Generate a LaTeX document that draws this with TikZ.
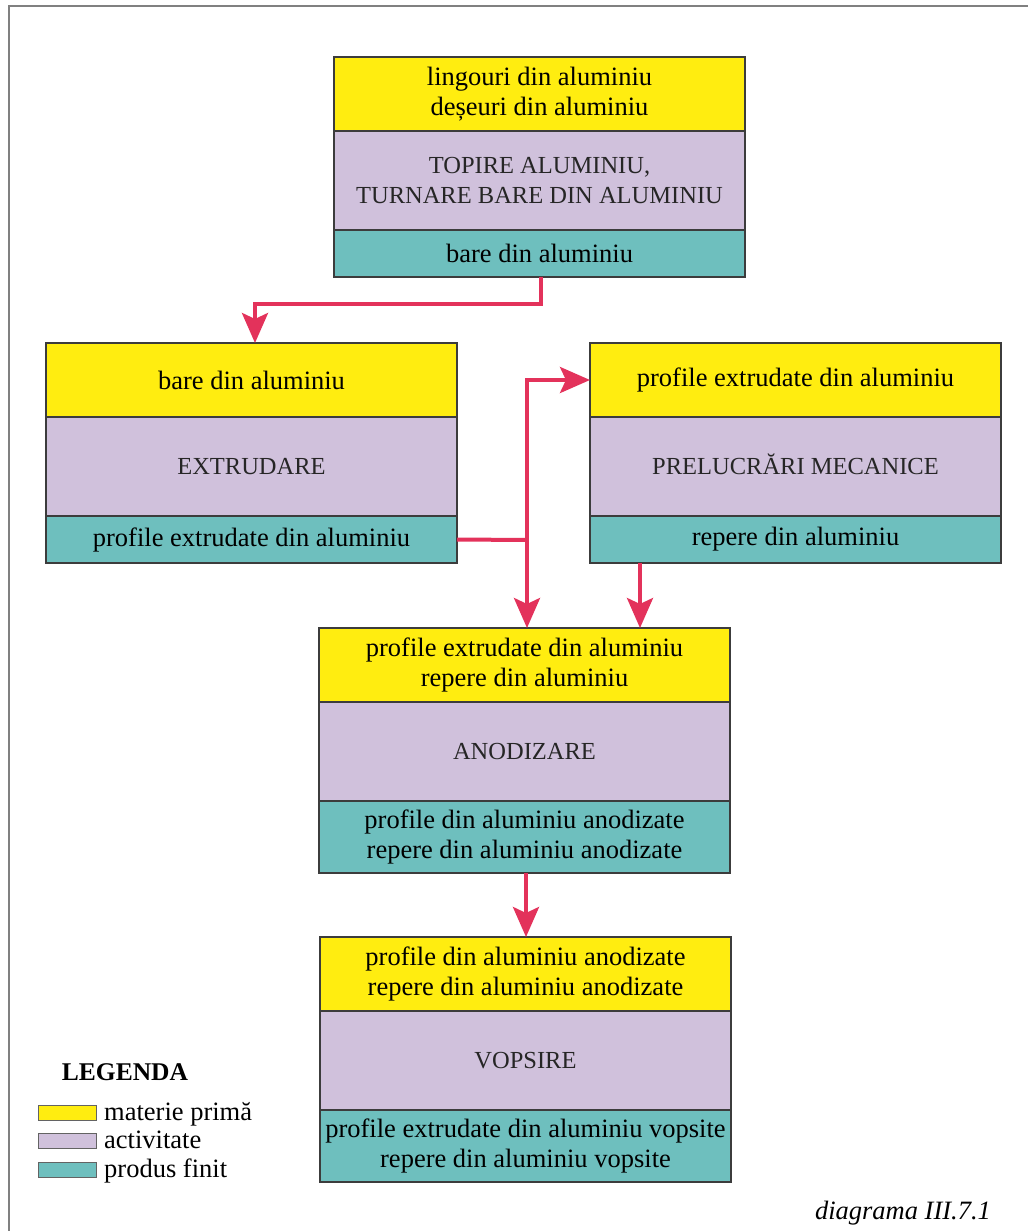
\documentclass[tikz,border=0pt]{standalone}
\usepackage{fontspec}
\setmainfont{Liberation Serif}
\usetikzlibrary{arrows.meta,positioning}
\definecolor{galben}{HTML}{FFED10}
\definecolor{lila}{HTML}{D0C1DC}
\definecolor{turcoaz}{HTML}{6EBFBE}
\definecolor{rosu}{HTML}{E3325B}
\definecolor{chenar}{HTML}{3C3C3C}

\begin{document}
\begin{tikzpicture}[x=1pt, y=-1pt,
    every node/.style={font=\fontsize{26.5}{30}\selectfont},
    cell/.style={rectangle, draw=chenar, line width=1.3pt, outer sep=0pt,
        minimum width=411pt, inner sep=0pt, align=center},
    materie/.style={cell, fill=galben, minimum height=74pt},
    activ/.style={cell, fill=lila, minimum height=99pt, text=black!85,
        font=\fontsize{24.5}{30}\selectfont},
    produs/.style={cell, fill=turcoaz, minimum height=47pt},
    produs2/.style={cell, fill=turcoaz, minimum height=72pt},
    swatch/.style={rectangle, draw=chenar!80, line width=1pt, minimum width=58pt,
        minimum height=15pt, inner sep=0pt, outer sep=0pt},
    legtext/.style={inner sep=0pt, anchor=base west, xshift=8pt},
    flux/.style={-{Stealth[length=30pt, width=26pt, inset=6pt]}, line width=4pt, rosu},
]
\useasboundingbox (0,0) rectangle (1028,1231);

% Frame
\draw[gray, line width=1.5pt] (9,1231) -- (9,6) -- (1028,6);

% Topire
\node[materie, anchor=north west] (top-in) at (334,57) {lingouri din aluminiu\\deșeuri din aluminiu};
\node[activ, below=0pt of top-in] (top-act) {TOPIRE ALUMINIU,\\TURNARE BARE DIN ALUMINIU};
\node[produs, below=0pt of top-act] (top-out) {bare din aluminiu};

% Extrudare
\node[materie, anchor=north west] (ext-in) at (46,343) {bare din aluminiu};
\node[activ, below=0pt of ext-in] (ext-act) {EXTRUDARE};
\node[produs, below=0pt of ext-act] (ext-out) {profile extrudate din aluminiu};

% Prelucrari mecanice
\node[materie, anchor=north west] (prel-in) at (590,343) {profile extrudate din aluminiu};
\node[activ, below=0pt of prel-in] (prel-act) {PRELUCR\smash{Ă}RI MECANICE};
\node[produs, below=0pt of prel-act] (prel-out) {repere din aluminiu};

% Anodizare
\node[materie, anchor=north west] (anod-in) at (319,628) {profile extrudate din aluminiu\\repere din aluminiu};
\node[activ, below=0pt of anod-in] (anod-act) {ANODIZARE};
\node[produs2, below=0pt of anod-act] (anod-out) {profile din aluminiu anodizate\\repere din aluminiu anodizate};

% Vopsire
\node[materie, anchor=north west] (vops-in) at (320,937) {profile din aluminiu anodizate\\repere din aluminiu anodizate};
\node[activ, below=0pt of vops-in] (vops-act) {VOPSIRE};
\node[produs2, below=0pt of vops-act] (vops-out) {profile extrudate din aluminiu vopsite\\repere din aluminiu vopsite};

% Arrows
\coordinate (nod) at (527,540);
\draw[flux] ([xshift=1.5pt]top-out.south) -- ++(0,27) -| ([xshift=3.5pt]ext-in.north);
\draw[line width=4pt, rosu] (ext-out.east) -- (nod);
\draw[flux] (nod) |- (prel-in.west);
\draw[flux] (nod) -- (nod |- anod-in.north);
\draw[flux] ([xshift=50pt]prel-out.south west) -- ([xshift=50pt]prel-out.south west |- anod-in.north);
\draw[flux] ([xshift=1.5pt]anod-out.south) -- ([xshift=1.5pt]anod-out.south |- vops-in.north);

% Legend
\node[font=\fontsize{25.5}{30}\selectfont\bfseries] (legenda) at (125,1072) {LEGENDA};
\node[swatch, fill=galben, anchor=north west] (sw1) at (38,1105) {};
\node[swatch, fill=lila, anchor=north west] (sw2) at (38,1133) {};
\node[swatch, fill=turcoaz, anchor=north west] (sw3) at (38,1162) {};
\node[legtext] at (sw1.south east) (leg1) {materie primă};
\node[legtext] at (sw2.south east) (leg2) {activitate};
\node[legtext] at (sw3.south east) (leg3) {produs finit};

% Caption
\node[font=\fontsize{26.5}{30}\selectfont\itshape] (titlu) at (903,1213) {diagrama III.7.1};

\end{tikzpicture}
\end{document}
